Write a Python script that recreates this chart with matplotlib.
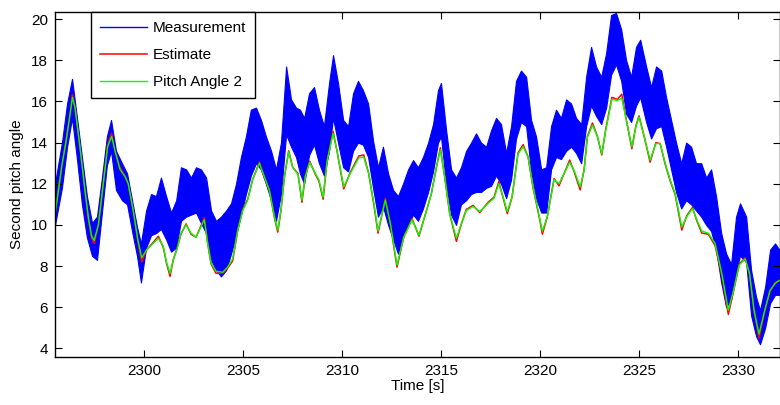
import numpy as np
import matplotlib
matplotlib.use("Agg")
import matplotlib.pyplot as plt

plt.rcParams['font.family'] = ['Liberation Sans', 'DejaVu Sans']

# measurement: upper / lower extent of the noisy signal
meas_t = [2295.49, 2295.84, 2296.10, 2296.35, 2296.60, 2296.85, 2297.10, 2297.36, 2297.61, 2297.86,
          2298.11, 2298.32, 2298.57, 2298.87, 2299.13, 2299.38, 2299.63, 2299.83, 2300.09, 2300.34,
          2300.59, 2300.84, 2301.10, 2301.35, 2301.61, 2301.85, 2302.11, 2302.36, 2302.61, 2302.86,
          2303.12, 2303.37, 2303.62, 2303.87, 2304.13, 2304.38, 2304.63, 2304.88, 2305.13, 2305.38,
          2305.64, 2305.89, 2306.14, 2306.40, 2306.65, 2306.90, 2307.16, 2307.41, 2307.66, 2307.86,
          2308.07, 2308.32, 2308.57, 2308.82, 2309.07, 2309.33, 2309.53, 2309.78, 2310.04, 2310.29,
          2310.54, 2310.79, 2311.04, 2311.30, 2311.55, 2311.80, 2312.05, 2312.31, 2312.56, 2312.81,
          2313.06, 2313.32, 2313.57, 2313.82, 2314.07, 2314.33, 2314.58, 2314.83, 2314.98, 2315.24,
          2315.49, 2315.74, 2315.99, 2316.25, 2316.50, 2316.75, 2317.00, 2317.26, 2317.51, 2317.76,
          2318.01, 2318.27, 2318.52, 2318.77, 2319.02, 2319.28, 2319.53, 2319.78, 2320.04, 2320.29,
          2320.54, 2320.79, 2321.04, 2321.30, 2321.55, 2321.80, 2322.06, 2322.31, 2322.56, 2322.81,
          2323.07, 2323.32, 2323.57, 2323.82, 2324.08, 2324.33, 2324.58, 2324.83, 2325.04, 2325.34,
          2325.59, 2325.84, 2326.10, 2326.35, 2326.60, 2326.85, 2327.11, 2327.36, 2327.61, 2327.86,
          2328.12, 2328.37, 2328.62, 2328.87, 2329.13, 2329.38, 2329.63, 2329.88, 2330.08, 2330.39,
          2330.64, 2330.89, 2331.09, 2331.35, 2331.60, 2331.85, 2332.06]
meas_hi = [12.0, 14.0, 15.9, 17.1, 15.2, 13.3, 11.4, 10.1, 10.4, 12.3,
           14.3, 15.1, 13.6, 13.0, 12.5, 11.2, 9.9, 9.1, 10.7, 11.5,
           11.4, 12.3, 11.4, 10.6, 11.2, 12.8, 12.7, 12.3, 12.8, 12.7,
           12.3, 10.7, 10.2, 10.4, 10.7, 11.05, 12.0, 13.3, 14.3, 15.6,
           15.7, 15.1, 14.3, 13.6, 12.7, 14.0, 17.7, 16.1, 15.7, 15.6,
           15.2, 16.4, 16.7, 15.6, 14.8, 16.9, 18.25, 16.9, 15.1, 14.8,
           16.4, 17.0, 16.55, 15.9, 14.1, 12.8, 13.8, 12.5, 11.7, 11.4,
           12.0, 12.7, 13.15, 12.8, 13.3, 14.0, 14.9, 16.55, 16.9, 14.6,
           12.7, 12.3, 12.8, 13.6, 14.0, 14.45, 14.0, 13.8, 14.6, 15.2,
           14.9, 13.5, 14.8, 17.0, 17.5, 17.2, 15.1, 14.3, 12.7, 12.8,
           14.8, 15.6, 15.2, 16.1, 15.9, 15.2, 14.9, 17.2, 18.65, 17.7,
           17.2, 18.35, 20.2, 20.3, 19.5, 18.0, 17.2, 18.65, 19.0, 17.7,
           16.7, 17.7, 17.5, 16.2, 15.1, 14.0, 13.0, 14.0, 13.8, 13.0,
           13.0, 12.3, 12.7, 11.4, 9.6, 8.6, 8.1, 10.4, 11.05, 10.4,
           7.8, 6.5, 5.85, 7.0, 8.8, 9.1, 8.8]
meas_lo = [10.0, 11.8, 13.8, 15.2, 13.2, 11.0, 9.4, 8.5, 8.3, 10.6,
           12.9, 13.6, 11.7, 11.2, 11.0, 9.7, 8.5, 7.2, 8.9, 9.5,
           9.6, 9.8, 9.3, 8.7, 8.9, 10.2, 10.4, 10.5, 10.6, 10.1,
           9.6, 8.3, 7.8, 7.5, 7.8, 8.6, 9.5, 10.5, 11.5, 12.4,
           13.0, 12.7, 12.0, 11.2, 10.2, 11.5, 14.4, 13.8, 13.3, 12.5,
           12.0, 13.4, 13.9, 13.0, 12.4, 13.6, 15.2, 14.0, 12.8, 12.6,
           13.6, 14.0, 13.9, 13.3, 11.8, 10.4, 10.9, 10.0, 9.3, 8.6,
           9.5, 10.0, 10.5, 10.2, 10.8, 11.6, 12.6, 14.0, 14.3, 12.0,
           10.5, 10.0, 11.0, 11.2, 11.5, 11.6, 11.6, 11.8, 11.9, 12.4,
           12.0, 11.3, 12.2, 14.2, 15.0, 14.8, 12.6, 11.3, 10.6, 10.6,
           12.7, 13.3, 13.2, 13.6, 13.8, 13.5, 13.0, 14.8, 15.8, 15.3,
           14.9, 15.7, 17.3, 17.8, 17.0, 15.4, 15.0, 15.8, 16.2, 15.0,
           14.2, 14.7, 14.8, 13.8, 12.7, 11.6, 10.8, 11.2, 11.0, 10.7,
           10.4, 10.0, 9.7, 8.8, 7.2, 6.0, 6.4, 7.7, 8.5, 8.2,
           5.6, 4.6, 4.2, 5.0, 6.2, 6.6, 6.6]

# filtered estimate and reference pitch angle
est_t = [2295.49, 2295.64, 2295.84, 2296.04, 2296.24, 2296.37, 2296.50, 2296.75, 2297.00, 2297.17,
         2297.34, 2297.47, 2297.68, 2297.93, 2298.15, 2298.35, 2298.52, 2298.77, 2299.03, 2299.19,
         2299.44, 2299.67, 2299.87, 2300.12, 2300.45, 2300.71, 2300.96, 2301.13, 2301.30, 2301.46,
         2301.65, 2301.85, 2302.11, 2302.36, 2302.61, 2302.86, 2303.03, 2303.20, 2303.37, 2303.62,
         2303.96, 2304.21, 2304.46, 2304.72, 2304.97, 2305.22, 2305.47, 2305.81, 2306.06, 2306.31,
         2306.57, 2306.74, 2306.90, 2307.07, 2307.29, 2307.49, 2307.76, 2307.96, 2308.13, 2308.35,
         2308.64, 2308.81, 2309.03, 2309.23, 2309.53, 2309.73, 2310.07, 2310.40, 2310.83, 2311.08,
         2311.33, 2311.59, 2311.80, 2312.01, 2312.17, 2312.42, 2312.76, 2313.10, 2313.52, 2313.87,
         2314.16, 2314.49, 2314.75, 2314.95, 2315.17, 2315.42, 2315.76, 2316.01, 2316.26, 2316.60,
         2316.94, 2317.36, 2317.66, 2317.90, 2318.12, 2318.33, 2318.57, 2318.87, 2319.13, 2319.38,
         2319.63, 2319.98, 2320.10, 2320.35, 2320.69, 2320.94, 2321.20, 2321.48, 2321.70, 2322.01,
         2322.21, 2322.37, 2322.63, 2322.88, 2323.10, 2323.30, 2323.61, 2323.89, 2324.11, 2324.34,
         2324.62, 2324.82, 2324.98, 2325.24, 2325.54, 2325.83, 2326.05, 2326.30, 2326.55, 2326.80,
         2327.14, 2327.39, 2327.68, 2327.90, 2328.15, 2328.48, 2328.82, 2329.16, 2329.49, 2329.75,
         2330.04, 2330.34, 2330.56, 2330.79, 2331.04, 2331.33, 2331.59, 2331.85, 2332.06]
pitch2 = [10.5, 11.5, 12.9, 14.0, 15.3, 16.2, 15.7, 13.8, 11.7, 10.4,
          9.45, 9.25, 10.0, 12.0, 13.8, 14.3, 13.6, 12.7, 12.35, 12.0,
          10.7, 9.3, 8.4, 8.8, 9.1, 9.35, 8.95, 8.15, 7.65, 8.3,
          8.8, 9.6, 10.0, 9.6, 9.4, 9.9, 10.25, 9.1, 8.15, 7.75,
          7.7, 7.95, 8.35, 9.75, 10.7, 11.2, 12.2, 13.0, 12.35, 11.7,
          10.4, 9.75, 10.7, 12.3, 13.55, 12.8, 12.45, 11.2, 12.35, 13.05,
          12.5, 12.2, 11.35, 13.1, 14.45, 13.6, 11.85, 12.5, 13.25, 13.3,
          12.5, 11.05, 9.7, 10.55, 11.2, 10.1, 8.05, 9.4, 10.25, 9.5,
          10.4, 11.5, 12.8, 13.65, 12.35, 10.55, 9.35, 10.05, 10.7, 10.9,
          10.65, 11.05, 11.3, 12.0, 11.35, 10.65, 11.35, 13.45, 13.8, 13.3,
          11.85, 10.25, 9.7, 10.4, 12.2, 12.0, 12.5, 13.05, 12.65, 11.85,
          12.65, 14.25, 14.85, 14.3, 13.45, 14.6, 16.1, 16.05, 16.15, 15.1,
          13.8, 14.75, 15.25, 14.3, 13.15, 13.95, 13.95, 13.0, 12.2, 11.55,
          9.9, 10.4, 10.8, 10.25, 9.7, 9.6, 9.1, 7.65, 5.85, 6.8,
          8.05, 8.35, 7.65, 5.85, 4.7, 5.85, 6.8, 7.15, 7.3]
estimate = [10.5, 11.6, 12.9, 14.1, 15.3, 16.35, 15.7, 13.8, 11.7, 10.3,
            9.35, 9.1, 10.0, 12.0, 13.9, 14.45, 13.6, 12.8, 12.35, 11.95,
            10.7, 9.2, 8.2, 8.8, 9.15, 9.45, 8.9, 8.1, 7.5, 8.3,
            8.85, 9.55, 10.05, 9.55, 9.4, 9.95, 10.35, 9.1, 8.1, 7.65,
            7.65, 7.9, 8.25, 9.75, 10.75, 11.25, 12.2, 13.05, 12.3, 11.7,
            10.35, 9.65, 10.7, 12.3, 13.6, 12.8, 12.5, 11.1, 12.4, 13.1,
            12.45, 12.15, 11.25, 13.1, 14.55, 13.6, 11.75, 12.55, 13.35, 13.4,
            12.5, 11.0, 9.6, 10.55, 11.3, 10.05, 7.95, 9.4, 10.3, 9.45,
            10.4, 11.5, 12.8, 13.75, 12.3, 10.55, 9.2, 10.05, 10.75, 10.95,
            10.6, 11.1, 11.35, 12.1, 11.3, 10.55, 11.35, 13.5, 13.9, 13.3,
            11.8, 10.2, 9.55, 10.4, 12.25, 11.9, 12.5, 13.15, 12.6, 11.7,
            12.7, 14.3, 14.95, 14.3, 13.4, 14.65, 16.2, 16.1, 16.35, 15.1,
            13.7, 14.8, 15.3, 14.3, 13.05, 14.0, 13.95, 12.95, 12.15, 11.5,
            9.75, 10.45, 10.85, 10.2, 9.6, 9.55, 9.0, 7.55, 5.65, 6.75,
            8.1, 8.4, 7.6, 5.8, 4.5, 5.8, 6.75, 7.2, 7.3]

fig = plt.figure(figsize=(7.8, 4.05), dpi=100)
ax = fig.add_axes([0.0705, 0.1185, 0.929, 0.852])

ax.fill_between(meas_t, meas_lo, meas_hi, color='#0000ff', linewidth=0.8, label='_nolegend_')
ax.plot([], [], color='#0000ff', linewidth=1.0, label='Measurement')
ax.plot(est_t, estimate, color='#ff0000', linewidth=1.1, label='Estimate')
ax.plot(est_t, pitch2, color='#00ff00', linewidth=1.0, label='Pitch Angle 2')

ax.set_xlim(2295.49, 2332.08)
ax.set_ylim(3.58, 20.35)
ax.set_xticks([2300, 2305, 2310, 2315, 2320, 2325, 2330])
ax.set_yticks([4, 6, 8, 10, 12, 14, 16, 18, 20])
ax.tick_params(direction='in', top=True, right=True, length=5, width=0.8,
               labelsize=11, colors='black', pad=5)
for sp in ax.spines.values():
    sp.set_linewidth(1.0)
    sp.set_color('black')

ax.set_xlabel('Time [s]', fontsize=11, labelpad=1)
ax.set_ylabel('Second pitch angle', fontsize=11, labelpad=5)

leg = ax.legend(loc='upper left', bbox_to_anchor=(0.0493, 1.0), borderaxespad=0,
                fontsize=11, frameon=True, fancybox=False, framealpha=1,
                edgecolor='black', handlelength=3.1, handletextpad=0.35,
                labelspacing=0.85, borderpad=0.6)
leg.get_frame().set_linewidth(1.0)

fig.savefig('out.png', dpi=100)
